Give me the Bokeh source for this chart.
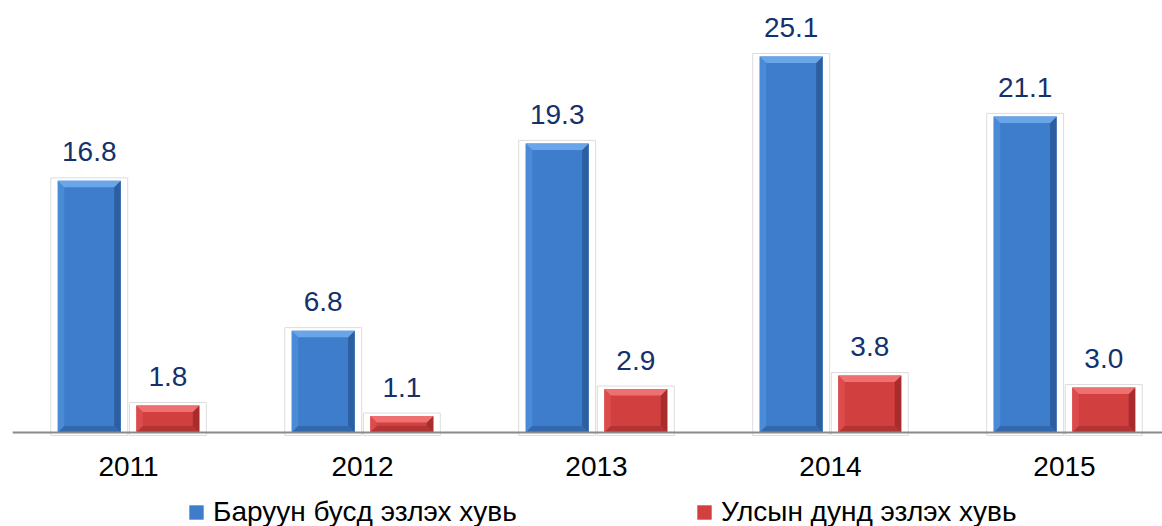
import numpy as np
from bokeh.plotting import figure
from bokeh.models import Range1d, Legend, LegendItem, ColumnDataSource, Span
from bokeh.embed import file_html
from bokeh.resources import INLINE
from bokeh.core.properties import value

years = ["2011", "2012", "2013", "2014", "2015"]
western = [16.8, 6.8, 19.3, 25.1, 21.1]
national = [1.8, 1.1, 2.9, 3.8, 3.0]
series_names = ["Баруун бусд эзлэх хувь", "Улсын дунд эзлэх хувь"]

FONT = "Liberation Sans"

p = figure(width=1162, height=526, output_backend="svg", toolbar_location=None,
           x_range=Range1d(-0.496, 4.419), y_range=Range1d(-6.275, 28.84),
           min_border_left=12, min_border_right=0, min_border_top=0,
           min_border_bottom=0)
p.outline_line_color = None
p.grid.visible = False
p.axis.visible = False
p.background_fill_color = "white"

# category axis line (baseline at y = 0)
p.add_layout(Span(location=0, dimension="width", line_color="#8a8a8a", line_width=2))

idx = np.arange(len(years))
half = 0.1345
off = 0.168
pxu_x = 234.0   # px per x unit (approx)
pxu_y = 14.98   # px per y unit (approx)
dx = 6.5 / pxu_x
dy = 6.5 / pxu_y

def bars(centers, vals, main, light, lighter, dark, darker):
    vals = np.array(vals, dtype=float)
    l = centers - half
    r = centers + half
    # faint outline / shadow box
    p.quad(left=l - 7 / pxu_x, right=r + 7 / pxu_x, bottom=-3 / pxu_y, top=vals + 3 / pxu_y,
           fill_color="white", fill_alpha=0.0, line_color="#dcdcdc", line_width=1)
    src = ColumnDataSource(dict(left=l, right=r, top=vals, bottom=np.zeros_like(vals)))
    rend = p.quad(left="left", right="right", top="top", bottom="bottom", source=src,
                  fill_color=main, line_color=None)
    # bevels
    top_xs, top_ys, bot_xs, bot_ys, lf_xs, lf_ys, rt_xs, rt_ys = [], [], [], [], [], [], [], []
    for li, ri, v in zip(l, r, vals):
        d = min(dy, v / 2.5)
        top_xs.append([li, ri, ri - dx, li + dx]); top_ys.append([v, v, v - d, v - d])
        bot_xs.append([li, ri, ri - dx, li + dx]); bot_ys.append([0, 0, d, d])
        lf_xs.append([li, li + dx, li + dx, li]); lf_ys.append([0, d, v - d, v])
        rt_xs.append([ri, ri - dx, ri - dx, ri]); rt_ys.append([0, d, v - d, v])
    p.patches(lf_xs, lf_ys, fill_color=light, line_color=None)
    p.patches(rt_xs, rt_ys, fill_color=dark, line_color=None)
    p.patches(bot_xs, bot_ys, fill_color=darker, line_color=None)
    p.patches(top_xs, top_ys, fill_color=lighter, line_color=None)
    # value labels
    p.text(x=centers, y=vals, text=[f"{v:.1f}" for v in vals], text_align="center",
           text_baseline="alphabetic", y_offset=-29, text_font=value(FONT),
           text_font_size="28px", text_color="#15306b")
    return rend

r1 = bars(idx - off, western, "#3d7dcc", "#4a8bd8", "#6aa5ea", "#2c5f9f", "#3468ad")
r2 = bars(idx + off, national, "#d13f3f", "#dc4c4c", "#ee7070", "#a82c2c", "#b33434")

# category labels under the baseline
p.text(x=idx, y=np.zeros(len(years)), text=years, text_align="center",
       text_baseline="top", y_offset=24, text_font=value(FONT),
       text_font_size="28px", text_color="#000000")

lg = Legend(items=[LegendItem(label=series_names[0], renderers=[r1]),
                   LegendItem(label=series_names[1], renderers=[r2])],
            location=(175, -2), orientation="horizontal",
            glyph_width=18, glyph_height=18, label_standoff=8,
            label_width=482, padding=0, margin=0, spacing=0,
            border_line_color=None, background_fill_alpha=0.0,
            label_text_font=FONT, label_text_font_size="28px",
            label_text_color="#000000")
p.add_layout(lg, "center")

open("out.html", "w").write(file_html(p, INLINE))
